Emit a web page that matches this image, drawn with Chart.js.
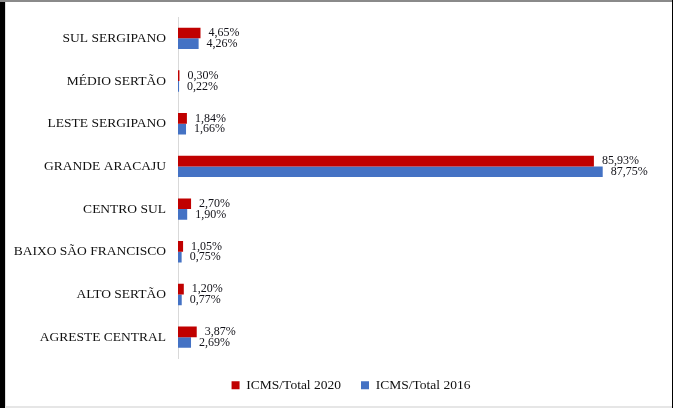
<!DOCTYPE html>
<html>
<head>
<meta charset="utf-8">
<script src="https://cdn.jsdelivr.net/npm/chart.js@4"></script>
<style>
  body { margin: 0; background: #fff; }
  #wrap { position: relative; width: 673px; height: 408px; overflow: hidden; }
  .edge { position: absolute; }
  canvas { position: absolute; left: 0; top: 0; }
</style>
</head>
<body>
<div id="wrap">
  <div class="edge" style="left:0;top:0;width:5px;height:408px;background:#000"></div>
  <div class="edge" style="left:5px;top:0;width:1px;height:406px;background:#dedede"></div>
  <div class="edge" style="left:0;top:0;width:673px;height:2px;background:#8a8a8a"></div>
  <div class="edge" style="left:672px;top:0;width:1px;height:408px;background:#000"></div>
  <div class="edge" style="left:5px;top:406px;width:667px;height:2px;background:#e6e6e6"></div>
  <canvas id="chart" width="673" height="408"></canvas>
</div>
<script>
  const categories = ['SUL SERGIPANO', 'MÉDIO SERTÃO', 'LESTE SERGIPANO', 'GRANDE ARACAJU',
    'CENTRO SUL', 'BAIXO SÃO FRANCISCO', 'ALTO SERTÃO', 'AGRESTE CENTRAL'];
  const icms2020 = [4.65, 0.30, 1.84, 85.93, 2.70, 1.05, 1.20, 3.87];
  const icms2016 = [4.26, 0.22, 1.66, 87.75, 1.90, 0.75, 0.77, 2.69];

  const serif = '"Liberation Serif", "Times New Roman", serif';

  // value labels next to each bar, e.g. "4,65%"
  const barLabels = {
    id: 'barLabels',
    afterDatasetsDraw(chart) {
      const ctx = chart.ctx;
      ctx.save();
      ctx.font = '12px ' + serif;
      ctx.fillStyle = '#111118';
      ctx.textBaseline = 'middle';
      ctx.textAlign = 'left';
      chart.data.datasets.forEach((ds, i) => {
        chart.getDatasetMeta(i).data.forEach((bar, j) => {
          const txt = ds.data[j].toFixed(2).replace('.', ',') + '%';
          ctx.fillText(txt, bar.x + 8, bar.y);
        });
      });
      ctx.restore();
    }
  };

  // nudge the legend a bit to the right, like the original
  const legendShift = {
    id: 'legendShift',
    beforeDraw(chart) {
      chart.legend.left += 20;
      chart.legend.right += 20;
    }
  };

  new Chart(document.getElementById('chart'), {
    type: 'bar',
    data: {
      labels: categories,
      datasets: [
        { label: 'ICMS/Total 2020', data: icms2020, backgroundColor: '#c00000' },
        { label: 'ICMS/Total 2016', data: icms2016, backgroundColor: '#4472c4' }
      ]
    },
    options: {
      indexAxis: 'y',
      responsive: false,
      animation: false,
      categoryPercentage: 0.5,
      barPercentage: 1.0,
      layout: { padding: { left: 0, right: 11, top: 17, bottom: 6 } },
      scales: {
        x: { display: false, min: 0, max: 100 },
        y: {
          grid: { display: true, color: 'transparent', drawTicks: false },
          border: { display: true, color: '#d9d9d9', width: 1 },
          ticks: { padding: 12, color: '#111', font: { family: serif, size: 13.5 } },
          afterFit(scale) {
            scale.width = 178;
            // labels sit inside their bands, no extra room needed above/below
            scale.paddingTop = 0;
            scale.paddingBottom = 0;
          }
        }
      },
      plugins: {
        legend: {
          position: 'bottom',
          labels: {
            boxWidth: 8, boxHeight: 8, padding: 20,
            color: '#111', font: { family: serif, size: 13.5 }
          }
        },
        tooltip: { enabled: false }
      }
    },
    plugins: [barLabels, legendShift]
  });
</script>
</body>
</html>
